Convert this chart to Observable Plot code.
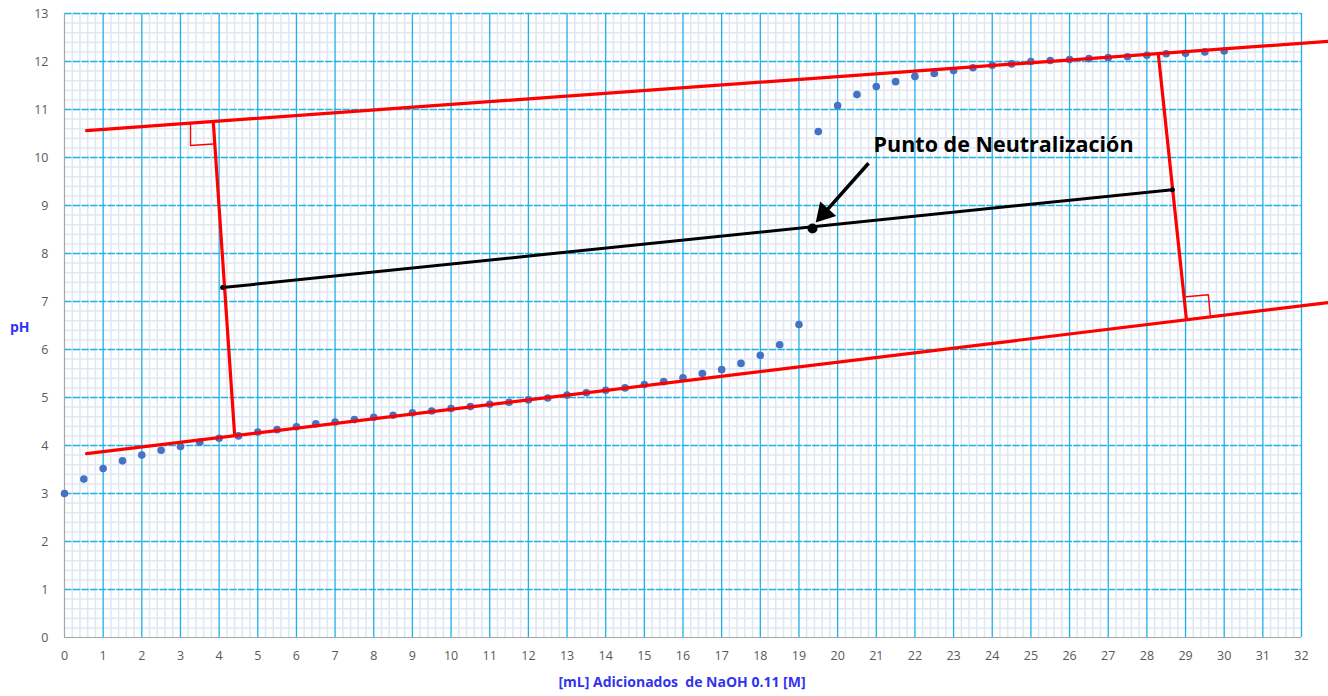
<!DOCTYPE html>
<html>
<head>
<meta charset="utf-8">
<script src="https://cdn.jsdelivr.net/npm/d3@7"></script>
<script src="https://cdn.jsdelivr.net/npm/@observablehq/plot@0.6"></script>
<style>
  body { margin: 0; background: #fff; }
  #chart { position: relative; width: 1328px; height: 696px; }
  .lbl { position: absolute; font-family: "Open Sans", sans-serif; font-weight: bold; color: #3333ee; font-size: 14px; }
</style>
</head>
<body>
<div id="chart"></div>
<script>
// Titration data: mL NaOH added vs pH
const volume = [0,0.5,1,1.5,2,2.5,3,3.5,4,4.5,5,5.5,6,6.5,7,7.5,8,8.5,9,9.5,10,10.5,11,11.5,12,12.5,13,13.5,14,14.5,15,15.5,16,16.5,17,17.5,18,18.5,19,19.5,20,20.5,21,21.5,22,22.5,23,23.5,24,24.5,25,25.5,26,26.5,27,27.5,28,28.5,29,29.5,30];
const pH = [3.0,3.3,3.52,3.68,3.8,3.9,3.98,4.07,4.15,4.2,4.28,4.33,4.39,4.45,4.49,4.54,4.59,4.63,4.68,4.72,4.77,4.81,4.86,4.9,4.95,4.99,5.05,5.1,5.15,5.2,5.27,5.33,5.41,5.5,5.58,5.71,5.88,6.1,6.52,10.54,11.08,11.31,11.48,11.58,11.69,11.75,11.81,11.87,11.92,11.95,12.0,12.02,12.04,12.06,12.08,12.1,12.13,12.16,12.17,12.2,12.22];

// Construction lines (tangents, perpendiculars, midline)
const upperX = [0.57, 32.7], upperY = [10.56, 12.42];
const lowerX = [0.57, 32.7], lowerY = [3.83, 6.98];
const perpLeftX = [3.85, 4.40], perpLeftY = [10.73, 4.23];
const perpRightX = [28.30, 29.02], perpRightY = [12.125, 6.65];
const sqLeftX = [3.26, 3.26, 3.85], sqLeftY = [10.73, 10.25, 10.28];
const sqRightX = [29.02, 29.59, 29.64], sqRightY = [7.10, 7.14, 6.71];
const midX = [4.09, 28.66], midY = [7.29, 9.33];
const neutralX = [19.35], neutralY = [8.52];
const arrowFrom = [20.8, 9.88], arrowTo = [19.52, 8.72];
const labelText = "Punto de Neutralización";
const labelPos = [20.93, 10.25];

const xTicks = d3.range(0, 33, 1);
const yTicks = d3.range(0, 14, 1);
const xMinor = d3.range(0, 32.01, 0.2).filter(v => Math.abs(v - Math.round(v)) > 1e-6);
const yMinor = d3.range(0, 13.01, 0.2).filter(v => Math.abs(v - Math.round(v)) > 1e-6);

const toPts = (xs, ys) => xs.map((x, i) => ({x, y: ys[i]}));
const data = volume.map((v, i) => ({x: v, y: pH[i]}));
const blue = "#1fb0ea";

// arrow head sits slightly back from the tip along the shaft
const t = 0.9;
const headPt = {x: arrowFrom[0] + (arrowTo[0] - arrowFrom[0]) * t, y: arrowFrom[1] + (arrowTo[1] - arrowFrom[1]) * t};

const chart = Plot.plot({
  width: 1328, height: 696,
  marginLeft: 64, marginRight: 27, marginTop: 13, marginBottom: 59,
  x: {domain: [0, 32], ticks: xTicks, tickSize: 0, tickPadding: 14, label: null},
  y: {domain: [0, 13], ticks: yTicks, tickSize: 0, tickPadding: 16, label: null},
  style: {fontFamily: "Open Sans, sans-serif", fontSize: "12px", color: "#595959", background: "#fff"},
  marks: [
    Plot.ruleX(xMinor, {stroke: "#dfe7f3", strokeWidth: 1.5}),
    Plot.ruleY(yMinor, {stroke: "#dfe7f3", strokeWidth: 1.5}),
    Plot.ruleX(xTicks.filter(d => d > 0), {stroke: blue, strokeWidth: 1.3}),
    Plot.ruleY(yTicks.filter(d => d > 0), {stroke: blue, strokeWidth: 1.3, strokeDasharray: "7.5,1.2"}),
    Plot.ruleX([0], {stroke: "#a6a6a6", strokeWidth: 1.2}),
    Plot.ruleY([0], {stroke: "#a6a6a6", strokeWidth: 1.2}),
    Plot.axisX({ticks: xTicks, tickSize: 0, tickPadding: 14, fill: "#595959", fontSize: 12.5}),
    Plot.axisY({ticks: yTicks, tickSize: 0, tickPadding: 16, fill: "#595959", fontSize: 12.5}),
    Plot.dot(data, {x: "x", y: "y", r: 3.8, fill: "#4472c4", stroke: "none"}),
    Plot.line(toPts(upperX, upperY), {x: "x", y: "y", stroke: "#ff0000", strokeWidth: 3.2, clip: false}),
    Plot.line(toPts(lowerX, lowerY), {x: "x", y: "y", stroke: "#ff0000", strokeWidth: 3.2, clip: false}),
    Plot.line(toPts(perpLeftX, perpLeftY), {x: "x", y: "y", stroke: "#ff0000", strokeWidth: 3.2}),
    Plot.line(toPts(perpRightX, perpRightY), {x: "x", y: "y", stroke: "#ff0000", strokeWidth: 3.2}),
    Plot.line(toPts(sqLeftX, sqLeftY), {x: "x", y: "y", stroke: "#ff0000", strokeWidth: 1.4}),
    Plot.line(toPts(sqRightX, sqRightY), {x: "x", y: "y", stroke: "#ff0000", strokeWidth: 1.4}),
    Plot.line(toPts(midX, midY), {x: "x", y: "y", stroke: "#000", strokeWidth: 3}),
    Plot.dot(toPts(midX, midY), {x: "x", y: "y", r: 2.5, fill: "#000"}),
    Plot.dot(toPts(neutralX, neutralY), {x: "x", y: "y", r: 5, fill: "#000"}),
    Plot.link([{x1: arrowFrom[0], y1: arrowFrom[1], x2: headPt.x, y2: headPt.y}],
      {x1: "x1", y1: "y1", x2: "x2", y2: "y2", stroke: "#000", strokeWidth: 3.5}),
    Plot.dot([headPt], {x: "x", y: "y", symbol: "triangle", r: 8, fill: "#000", stroke: "none", rotate: 222}),
    Plot.text([labelText], {x: labelPos[0], y: labelPos[1], text: d => d, textAnchor: "start",
      fontSize: 21.5, fontWeight: "bold", fill: "#000", fontFamily: "Open Sans, sans-serif"})
  ]
});
const root = document.getElementById("chart");
root.appendChild(chart);

const yl = document.createElement("div");
yl.className = "lbl"; yl.textContent = "pH";
yl.style.left = "10px"; yl.style.top = "317px";
root.appendChild(yl);
const xl = document.createElement("div");
xl.className = "lbl"; xl.textContent = "[mL] Adicionados  de NaOH 0.11 [M]";
xl.style.whiteSpace = "pre";
xl.style.left = "0px"; xl.style.width = "1364px"; xl.style.textAlign = "center"; xl.style.top = "672px";
root.appendChild(xl);
</script>
</body>
</html>
